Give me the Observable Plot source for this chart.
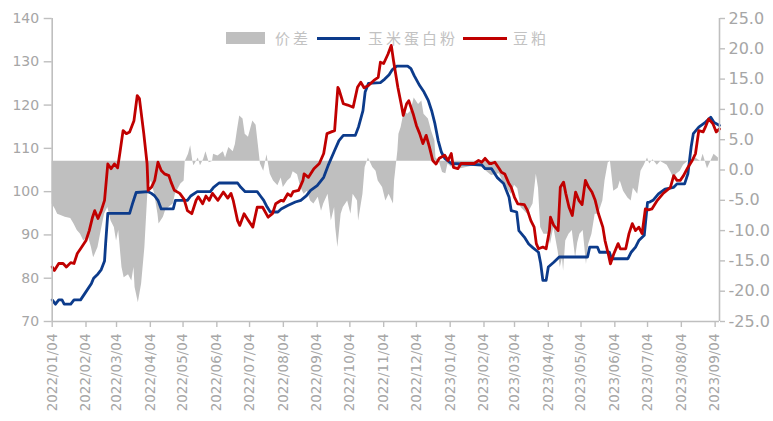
<!DOCTYPE html>
<html><head><meta charset="utf-8">
<script src="https://cdn.jsdelivr.net/npm/d3@7"></script>
<script src="https://cdn.jsdelivr.net/npm/@observablehq/plot@0.6"></script>
<style>
body{margin:0;background:#fff;}
#wrap{position:relative;width:773px;height:421px;overflow:hidden;}
.legend{position:absolute;top:0;left:0;width:773px;height:60px;font-family:"Noto Sans CJK SC";font-size:15px;color:#c2c2c2;pointer-events:none;}
.legend .sw{position:absolute;}
.legend .lb{position:absolute;top:28px;letter-spacing:3px;line-height:20px;white-space:nowrap;}
</style></head><body><div id="wrap"></div>
<script>
// ---- axis settings ----
const leftTicks = [70, 80, 90, 100, 110, 120, 130, 140];
const rightTicks = [-25, -20, -15, -10, -5, 0, 5, 10, 15, 20, 25];
const xTickLabels = ["2022/01/04","2022/02/04","2022/03/04","2022/04/04","2022/05/04","2022/06/04","2022/07/04","2022/08/04","2022/09/04","2022/10/04","2022/11/04","2022/12/04","2023/01/04","2023/02/04","2023/03/04","2023/04/04","2023/05/04","2023/06/04","2023/07/04","2023/08/04","2023/09/04"];
const seriesNames = ["价差", "玉米蛋白粉", "豆粕"];
const SPREAD_BASE = 1.43; // the grey area is filled from here (right axis units)

// ---- 玉米蛋白粉 (left axis) ----
const cornGlutenMeal = [["2022-01-04",75],["2022-01-07",74],["2022-01-10",75],["2022-01-13",75],["2022-01-15",74],["2022-01-21",74],["2022-01-24",75],["2022-01-30",75],["2022-02-03",76.5],["2022-02-09",78.8],["2022-02-11",80],["2022-02-15",81],["2022-02-18",82],["2022-02-21",84],["2022-02-22",88],["2022-02-24",95],["2022-03-16",95],["2022-03-19",97.5],["2022-03-22",99.8],["2022-04-02",100],["2022-04-05",99.6],["2022-04-08",99],["2022-04-11",98],["2022-04-14",96],["2022-04-25",96],["2022-04-27",98],["2022-05-08",98],["2022-05-11",99],["2022-05-17",100],["2022-05-29",100],["2022-06-01",101],["2022-06-06",102],["2022-06-23",102],["2022-06-26",101],["2022-06-30",100],["2022-07-11",100],["2022-07-14",99],["2022-07-17",98],["2022-07-20",96.5],["2022-07-23",95.3],["2022-07-30",95.3],["2022-08-02",96],["2022-08-08",96.8],["2022-08-15",97.6],["2022-08-20",98],["2022-08-25",99],["2022-08-29",100.3],["2022-09-04",101.4],["2022-09-10",103.3],["2022-09-14",106],["2022-09-20",109.5],["2022-09-24",111.8],["2022-09-28",113],["2022-10-09",113],["2022-10-12",115],["2022-10-16",118.7],["2022-10-18",123],["2022-10-21",125],["2022-11-01",125.2],["2022-11-05",126],["2022-11-09",127],["2022-11-12",128.2],["2022-11-16",129],["2022-11-26",129],["2022-11-29",128.4],["2022-12-02",126.8],["2022-12-07",124.5],["2022-12-11",123],["2022-12-15",121],["2022-12-18",118.7],["2022-12-21",115.7],["2022-12-24",111.8],["2022-12-27",109.1],["2022-12-30",107.7],["2023-01-05",106.5],["2023-02-02",106.2],["2023-02-05",105.3],["2023-02-11",105.3],["2023-02-16",103.3],["2023-02-22",101.9],["2023-02-27",98.7],["2023-03-01",95.6],["2023-03-06",95.3],["2023-03-08",91],["2023-03-13",89.5],["2023-03-17",87.9],["2023-03-21",87],["2023-03-26",86],["2023-03-28",83.4],["2023-03-30",79.5],["2023-04-02",79.5],["2023-04-04",82.6],["2023-04-09",83.7],["2023-04-14",84.9],["2023-05-10",84.9],["2023-05-12",87.2],["2023-05-19",87.2],["2023-05-21",86],["2023-05-30",86],["2023-06-01",84.5],["2023-06-16",84.5],["2023-06-19",86],["2023-06-23",87.2],["2023-06-26",88.7],["2023-07-01",89.9],["2023-07-04",97.5],["2023-07-06",97.6],["2023-07-09",98],["2023-07-14",99.5],["2023-07-20",100.6],["2023-07-28",101],["2023-07-31",101.8],["2023-08-07",101.8],["2023-08-10",104.1],["2023-08-13",110.3],["2023-08-15",113.4],["2023-08-20",114.9],["2023-08-26",116],["2023-08-31",117.2],["2023-09-03",116],["2023-09-08",115.3]];

// ---- 豆粕 (left axis) ----
const soybeanMeal = [["2022-01-04",82.6],["2022-01-06",81.8],["2022-01-10",83.4],["2022-01-14",83.4],["2022-01-17",82.6],["2022-01-21",83.6],["2022-01-24",83.4],["2022-01-27",85.7],["2022-01-30",86.8],["2022-02-04",88.7],["2022-02-07",91],["2022-02-10",94.1],["2022-02-12",95.6],["2022-02-15",93.8],["2022-02-18",95.6],["2022-02-21",98],["2022-02-24",106.4],["2022-02-27",105.3],["2022-03-02",106.4],["2022-03-05",105.5],["2022-03-07",108.8],["2022-03-10",114.1],["2022-03-13",113.4],["2022-03-16",113.8],["2022-03-20",116.4],["2022-03-23",122.2],["2022-03-25",121.5],["2022-03-29",113.4],["2022-04-01",106.5],["2022-04-02",100.3],["2022-04-05",101],["2022-04-08",102.6],["2022-04-11",106.8],["2022-04-14",104.9],["2022-04-17",104.1],["2022-04-21",103.7],["2022-04-23",102.2],["2022-04-26",100.3],["2022-05-01",99.6],["2022-05-05",98.2],["2022-05-08",95.6],["2022-05-12",94.9],["2022-05-16",98],["2022-05-18",98.8],["2022-05-22",97.2],["2022-05-25",99],["2022-05-28",98],["2022-05-31",99.6],["2022-06-05",98],["2022-06-10",99.9],["2022-06-14",98.5],["2022-06-17",99.6],["2022-06-19",98],["2022-06-23",93.3],["2022-06-25",92.2],["2022-06-29",94.9],["2022-07-03",93.3],["2022-07-07",91.8],["2022-07-11",96.4],["2022-07-16",96.4],["2022-07-21",94.1],["2022-07-25",94.9],["2022-07-28",97.2],["2022-08-02",98],["2022-08-04",97.8],["2022-08-08",99.5],["2022-08-11",99],["2022-08-13",100],["2022-08-18",100.3],["2022-08-22",102.6],["2022-08-23",104.1],["2022-08-27",103.3],["2022-09-01",105.3],["2022-09-06",106.5],["2022-09-10",108.8],["2022-09-13",113.4],["2022-09-17",113.8],["2022-09-20",114.1],["2022-09-23",124.1],["2022-09-24",123.6],["2022-09-28",120.3],["2022-10-02",120],["2022-10-07",119.5],["2022-10-11",124.1],["2022-10-14",125.3],["2022-10-17",124],["2022-10-21",124.5],["2022-10-26",125.7],["2022-10-30",126.4],["2022-11-01",129.9],["2022-11-04",129.6],["2022-11-08",131.8],["2022-11-11",133.8],["2022-11-13",130.3],["2022-11-17",124.1],["2022-11-20",120.3],["2022-11-22",117.6],["2022-11-25",120.3],["2022-11-27",121],["2022-12-01",118],["2022-12-04",115.3],["2022-12-07",113.4],["2022-12-10",111.1],["2022-12-13",113],["2022-12-16",110.3],["2022-12-19",107.2],["2022-12-22",106.4],["2022-12-25",107.7],["2022-12-30",108.4],["2023-01-02",107.2],["2023-01-05",108.8],["2023-01-07",105.6],["2023-01-11",105.3],["2023-01-14",106.5],["2023-01-26",106.5],["2023-01-30",107.2],["2023-02-02",106.8],["2023-02-05",107.7],["2023-02-09",106.5],["2023-02-11",106.5],["2023-02-14",106.8],["2023-02-18",105.3],["2023-02-20",104.5],["2023-02-23",104.1],["2023-02-27",101.8],["2023-03-01",101],["2023-03-04",98.7],["2023-03-07",97.2],["2023-03-13",97],["2023-03-16",95.6],["2023-03-19",93.3],["2023-03-22",91.8],["2023-03-24",88],["2023-03-26",86.8],["2023-03-30",87.2],["2023-04-02",86.8],["2023-04-05",91],["2023-04-06",94.1],["2023-04-09",92.2],["2023-04-13",91],["2023-04-15",101],["2023-04-18",102.2],["2023-04-20",99.6],["2023-04-23",96.4],["2023-04-26",94.5],["2023-04-29",99.9],["2023-05-02",98],["2023-05-05",97],["2023-05-08",102.6],["2023-05-11",101],["2023-05-14",99.9],["2023-05-17",98],["2023-05-20",94.9],["2023-05-24",91.8],["2023-05-26",88.7],["2023-05-29",85.6],["2023-05-31",83.3],["2023-06-03",85.6],["2023-06-07",88],["2023-06-09",86.8],["2023-06-14",86.8],["2023-06-17",90.3],["2023-06-20",92.6],["2023-06-23",91],["2023-06-26",91.8],["2023-06-29",90.3],["2023-07-02",96],["2023-07-05",95.8],["2023-07-08",96],["2023-07-13",98],["2023-07-18",99.5],["2023-07-25",101],["2023-07-28",103.7],["2023-07-31",102.6],["2023-08-03",102.6],["2023-08-06",103.7],["2023-08-10",105.6],["2023-08-14",107.2],["2023-08-17",108.8],["2023-08-20",114.1],["2023-08-24",113.8],["2023-08-26",114.9],["2023-08-29",116.8],["2023-09-02",115.7],["2023-09-05",113.8],["2023-09-08",114.5]];

// ---- 价差 (right axis) ----
const priceSpread = [["2022-01-04",-5.6],["2022-01-07",-6.5],["2022-01-09",-7.3],["2022-01-12",-7.5],["2022-01-16",-7.8],["2022-01-21",-8],["2022-01-24",-8.9],["2022-01-27",-10],["2022-01-30",-10.6],["2022-02-02",-11.7],["2022-02-06",-10.9],["2022-02-09",-12.8],["2022-02-11",-14.5],["2022-02-15",-12.8],["2022-02-18",-10],["2022-02-21",-7.3],["2022-02-24",-6.2],["2022-02-27",-8.4],["2022-03-02",-9.5],["2022-03-04",-11.7],["2022-03-06",-10],["2022-03-09",-16.1],["2022-03-11",-17.8],["2022-03-15",-17.3],["2022-03-18",-18.3],["2022-03-20",-16.1],["2022-03-21",-19.4],["2022-03-24",-21.9],["2022-03-27",-18.8],["2022-03-30",-12.8],["2022-04-02",-2.9],["2022-04-05",-1.8],["2022-04-08",-4],["2022-04-11",-7.3],["2022-04-12",-8.9],["2022-04-16",-7.8],["2022-04-18",-6.7],["2022-04-21",-6.2],["2022-04-25",-5.6],["2022-04-27",-4],["2022-05-02",-2.3],["2022-05-05",-1.8],["2022-05-06",1.4],["2022-05-09",2.6],["2022-05-11",4],["2022-05-13",1.4],["2022-05-14",0.7],["2022-05-18",2],["2022-05-20",0.7],["2022-05-23",1.8],["2022-05-25",3],["2022-05-28",1.2],["2022-05-31",1.4],["2022-06-01",2.6],["2022-06-05",2.3],["2022-06-10",3],["2022-06-12",2],["2022-06-15",3.7],["2022-06-19",3],["2022-06-21",4.2],["2022-06-23",6.7],["2022-06-25",8.9],["2022-06-28",8.4],["2022-06-30",5.9],["2022-07-03",5.4],["2022-07-07",8.1],["2022-07-10",7.4],["2022-07-12",4.2],["2022-07-14",1],["2022-07-17",-0.2],["2022-07-20",2.5],["2022-07-21",1.4],["2022-07-23",-0.7],["2022-07-26",-1.8],["2022-07-30",-2.6],["2022-08-02",-1.3],["2022-08-04",-2.9],["2022-08-08",-1.8],["2022-08-11",-1.3],["2022-08-13",-0.3],["2022-08-17",-0.8],["2022-08-20",-2.9],["2022-08-23",-4],["2022-08-26",-3.5],["2022-08-29",-5.1],["2022-09-01",-5.6],["2022-09-05",-4.5],["2022-09-08",-6.8],["2022-09-10",-5.6],["2022-09-14",-4],["2022-09-17",-8.4],["2022-09-20",-6.2],["2022-09-21",-9.5],["2022-09-23",-12.8],["2022-09-26",-7.3],["2022-09-28",-6.2],["2022-10-02",-5.1],["2022-10-05",-7.3],["2022-10-07",-4],["2022-10-11",-5.1],["2022-10-12",-8.4],["2022-10-16",-4],["2022-10-18",0.4],["2022-10-21",2],["2022-10-25",0.4],["2022-10-28",-0.2],["2022-10-30",-1.8],["2022-11-03",-2.9],["2022-11-06",-5.1],["2022-11-09",-4],["2022-11-13",-5.6],["2022-11-14",-1.8],["2022-11-17",3.1],["2022-11-18",5.9],["2022-11-20",7],["2022-11-23",9.7],["2022-11-26",9.2],["2022-11-29",9.7],["2022-12-02",11.9],["2022-12-06",10.8],["2022-12-09",11.4],["2022-12-11",9.2],["2022-12-15",8.4],["2022-12-18",6.4],["2022-12-21",4.8],["2022-12-22",2],["2022-12-25",1.4],["2022-12-28",-0.4],["2022-12-31",-0.6],["2023-01-02",1],["2023-01-05",0.5],["2023-01-11",0.8],["2023-01-14",0.2],["2023-01-24",0.6],["2023-02-02",0.4],["2023-02-11",-0.9],["2023-02-18",-0.6],["2023-02-23",-2.4],["2023-03-01",-4],["2023-03-04",-2.5],["2023-03-07",-3.1],["2023-03-10",-6.2],["2023-03-16",-7.3],["2023-03-21",-5.6],["2023-03-24",-0.7],["2023-03-26",-3],["2023-03-28",-9.5],["2023-03-31",-10.6],["2023-04-04",-10.6],["2023-04-06",-12.3],["2023-04-09",-9.5],["2023-04-13",-13.4],["2023-04-15",-16.1],["2023-04-17",-14.5],["2023-04-18",-16.7],["2023-04-20",-11.7],["2023-04-23",-10.6],["2023-04-26",-10],["2023-04-29",-14.5],["2023-05-01",-12],["2023-05-03",-10.6],["2023-05-06",-10],["2023-05-09",-15.6],["2023-05-11",-12.3],["2023-05-14",-10.6],["2023-05-17",-7.3],["2023-05-20",-7.3],["2023-05-24",-5.1],["2023-05-26",-1.8],["2023-05-29",1.2],["2023-05-31",1.4],["2023-06-03",-3.5],["2023-06-07",-3],["2023-06-09",-1.8],["2023-06-12",-3.5],["2023-06-16",-4.6],["2023-06-19",-5.1],["2023-06-21",-3],["2023-06-25",-4],["2023-06-28",-0.2],["2023-07-01",0.8],["2023-07-04",2],["2023-07-06",1],["2023-07-09",1.7],["2023-07-13",0.8],["2023-07-16",1.4],["2023-07-22",0.8],["2023-07-25",-0.2],["2023-07-28",-1.3],["2023-07-31",-0.6],["2023-08-03",-0.2],["2023-08-06",0.8],["2023-08-10",1.4],["2023-08-14",1.4],["2023-08-17",2],["2023-08-22",1.4],["2023-08-24",2.6],["2023-08-28",0.2],["2023-08-31",1.4],["2023-09-03",2.6],["2023-09-07",2]];

// ---- build ----
const parse = d3.utcParse("%Y-%m-%d");
const parseTick = d3.utcParse("%Y/%m/%d");
const rows = arr => arr.map(([d, v]) => ({date: parse(d), value: v}));
const leftDomain = [leftTicks[0], leftTicks[leftTicks.length - 1]];
const rightDomain = [rightTicks[0], rightTicks[rightTicks.length - 1]];
const k = (leftDomain[1] - leftDomain[0]) / (rightDomain[1] - rightDomain[0]);
const toLeft = r => leftDomain[0] + (r - rightDomain[0]) * k;
const rightLabel = new Map(rightTicks.map(r => [toLeft(r), r.toFixed(1)]));
const xDomain = [parse("2022-01-04"), parse("2023-09-08")];
const xTicks = xTickLabels.map(parseTick);

const AX = "#bfbfbf", TX = "#a6a6a6";
const chart = Plot.plot({
  width: 773, height: 421,
  marginLeft: 51.7, marginRight: 54, marginTop: 18, marginBottom: 100,
  style: {fontFamily: "DejaVu Sans", background: "white", overflow: "visible"},
  x: {type: "utc", domain: xDomain},
  y: {domain: leftDomain},
  marks: [
    Plot.areaY(rows(priceSpread), {x: "date", y1: () => toLeft(SPREAD_BASE), y2: d => toLeft(d.value), fill: "#bfbfbf"}),
    Plot.lineY(rows(cornGlutenMeal), {x: "date", y: "value", stroke: "#0c3b8b", strokeWidth: 2.8}),
    Plot.lineY(rows(soybeanMeal), {x: "date", y: "value", stroke: "#c00000", strokeWidth: 2.8}),
    Plot.ruleY([leftDomain[0]], {stroke: AX, strokeWidth: 1.6}),
    Plot.ruleX([xDomain[0]], {stroke: AX, strokeWidth: 1.6}),
    Plot.ruleX([xDomain[1]], {stroke: AX, strokeWidth: 1.6}),
    Plot.axisY({anchor: "left", ticks: leftTicks, tickSize: 8, tickPadding: 5, fontSize: 14, stroke: AX, fill: TX, strokeWidth: 1.4, label: null}),
    Plot.axisY({anchor: "right", ticks: rightTicks.map(toLeft), tickFormat: v => rightLabel.get(v), tickSize: 5, tickPadding: 4, fontSize: 16, stroke: AX, fill: TX, strokeWidth: 1.4, label: null}),
    Plot.axisX({ticks: xTicks, tickFormat: d3.utcFormat("%Y/%m/%d"), tickRotate: -90, tickSize: 6, tickPadding: 6, fontSize: 13.5, stroke: AX, fill: TX, strokeWidth: 1.4, label: null})
  ]
});

const wrap = document.getElementById("wrap");
wrap.appendChild(chart);
const lg = document.createElement("div");
lg.className = "legend";
lg.innerHTML =
  `<div class="sw" style="left:226px;top:32px;width:39px;height:12px;background:#bfbfbf"></div>` +
  `<div class="lb" style="left:275px">${seriesNames[0]}</div>` +
  `<div class="sw" style="left:317px;top:36.5px;width:43px;height:3px;background:#0c3b8b"></div>` +
  `<div class="lb" style="left:368px">${seriesNames[1]}</div>` +
  `<div class="sw" style="left:463px;top:36.5px;width:44px;height:3px;background:#c00000"></div>` +
  `<div class="lb" style="left:513px">${seriesNames[2]}</div>`;
wrap.appendChild(lg);
</script></body></html>
